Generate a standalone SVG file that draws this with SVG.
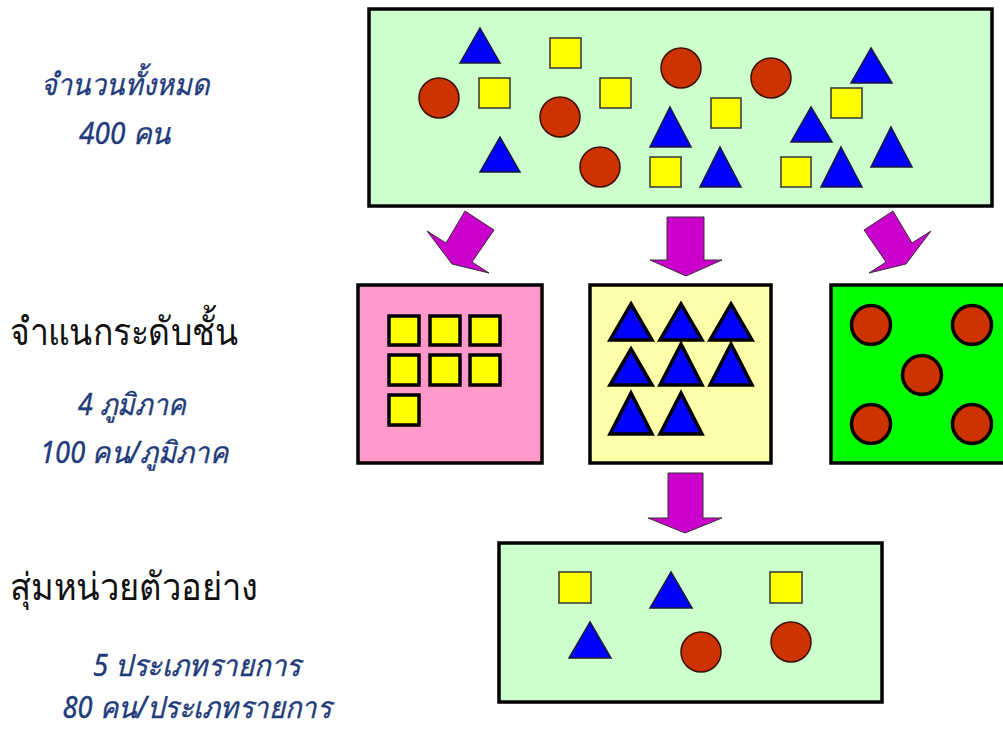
<svg xmlns="http://www.w3.org/2000/svg" width="1003" height="735" viewBox="0 0 1003 735">
<style>
.box{stroke:#000;stroke-width:3.5}
.lg{fill:#ccffcc}
.sq{fill:#ffff00;stroke:#333;stroke-width:1.5}
.tr{fill:#0000ff;stroke:#1a1a3a;stroke-width:1.5}
.ci{fill:#cc3300;stroke:#3a1000;stroke-width:1.5}
.sqb{fill:#ffff00;stroke:#000;stroke-width:3.5}
.trb{fill:#0000ff;stroke:#000;stroke-width:3.5;stroke-linejoin:miter}
.cib{fill:#cc3300;stroke:#000;stroke-width:3.5}
.arr{fill:#cc00cc;stroke:#333;stroke-width:1}
.it{font-family:"Noto Sans","DejaVu Sans",sans-serif;font-style:italic;font-size:30px;fill:#1f3b7a;stroke:#1f3b7a;stroke-width:0.4;text-anchor:middle}
.hd{font-family:"Liberation Serif","DejaVu Serif",serif;font-size:38px;fill:#111}
</style>
<g id="texts">
<text class="it" x="125" y="95" textLength="168" lengthAdjust="spacingAndGlyphs">จำนวนทั้งหมด</text>
<text class="it" x="125" y="144" textLength="92" lengthAdjust="spacingAndGlyphs">400 คน</text>
<text class="hd" x="10" y="345" textLength="228" lengthAdjust="spacingAndGlyphs">จำแนกระดับชั้น</text>
<text class="it" x="132" y="415" textLength="108" lengthAdjust="spacingAndGlyphs">4 ภูมิภาค</text>
<text class="it" x="134" y="463" textLength="188" lengthAdjust="spacingAndGlyphs">100 คน/ภูมิภาค</text>
<text class="hd" x="10" y="600" textLength="248" lengthAdjust="spacingAndGlyphs">สุ่มหน่วยตัวอย่าง</text>
<text class="it" x="197" y="676" textLength="208" lengthAdjust="spacingAndGlyphs">5 ประเภทรายการ</text>
<text class="it" x="197" y="718" textLength="269" lengthAdjust="spacingAndGlyphs">80 คน/ประเภทรายการ</text>
</g>
<g id="population">
<rect class="box lg" x="369" y="9" width="623" height="197"/>
<polygon class="tr" points="480,28 500,63 460,63"/>
<polygon class="tr" points="500,137 520,172 480,172"/>
<polygon class="tr" points="670,107 691,147 650,147"/>
<polygon class="tr" points="720,147 741,187 700,187"/>
<polygon class="tr" points="811,107 832,142 791,142"/>
<polygon class="tr" points="871,48 892,83 851,83"/>
<polygon class="tr" points="841,147 862,187 821,187"/>
<polygon class="tr" points="891,127 912,167 871,167"/>
<rect class="sq" x="550" y="38" width="31" height="30"/>
<rect class="sq" x="479" y="78" width="31" height="30"/>
<rect class="sq" x="600" y="78" width="31" height="30"/>
<rect class="sq" x="711" y="98" width="30" height="30"/>
<rect class="sq" x="831" y="88" width="31" height="30"/>
<rect class="sq" x="650" y="157" width="31" height="30"/>
<rect class="sq" x="781" y="157" width="30" height="30"/>
<circle class="ci" cx="439" cy="98" r="20"/>
<circle class="ci" cx="560" cy="117" r="20"/>
<circle class="ci" cx="600" cy="167" r="20"/>
<circle class="ci" cx="681" cy="68" r="20"/>
<circle class="ci" cx="771" cy="78" r="20"/>
</g>
<g id="connectors">
<polygon class="arr" points="465,211 494,230 472,262 489,273 452,264 427,231 446,243"/>
<polygon class="arr" points="667,217 704,217 704,260 722,260 686,276 650,260 667,260"/>
<polygon class="arr" points="893,211 864,230 886,262 869,273 906,264 931,231 912,243"/>
<polygon class="arr" points="668,473 703,473 703,518 722,518 685,533 648,518 668,518"/>
</g>
<g id="stratum-squares">
<rect class="box" fill="#ff99cc" x="358" y="285" width="184" height="178"/>
<rect class="sqb" x="389" y="316" width="30" height="29"/>
<rect class="sqb" x="430" y="316" width="30" height="29"/>
<rect class="sqb" x="470" y="316" width="30" height="29"/>
<rect class="sqb" x="389" y="355" width="30" height="30"/>
<rect class="sqb" x="430" y="355" width="30" height="30"/>
<rect class="sqb" x="470" y="355" width="30" height="30"/>
<rect class="sqb" x="389" y="395" width="30" height="30"/>
</g>
<g id="stratum-triangles">
<rect class="box" fill="#ffffaa" x="590" y="285" width="181" height="178"/>
<polygon class="trb" points="631,304 652,340 610,340"/>
<polygon class="trb" points="681,304 702,340 660,340"/>
<polygon class="trb" points="731,304 752,340 710,340"/>
<polygon class="trb" points="631,349 652,385 610,385"/>
<polygon class="trb" points="681,344 702,385 660,385"/>
<polygon class="trb" points="731,344 752,385 710,385"/>
<polygon class="trb" points="631,393 652,434 610,434"/>
<polygon class="trb" points="681,393 702,434 660,434"/>
</g>
<g id="stratum-circles">
<rect class="box" fill="#00ff00" x="831" y="285" width="176" height="178"/>
<circle class="cib" cx="871" cy="325" r="19.5"/>
<circle class="cib" cx="972" cy="325" r="19.5"/>
<circle class="cib" cx="922" cy="375" r="19.5"/>
<circle class="cib" cx="871" cy="424" r="19.5"/>
<circle class="cib" cx="972" cy="424" r="19.5"/>
</g>
<g id="sample">
<rect class="box lg" x="499" y="543" width="383" height="159"/>
<rect class="sq" x="559" y="572" width="32" height="31"/>
<rect class="sq" x="770" y="572" width="32" height="31"/>
<polygon class="tr" points="671,572 692,608 650,608"/>
<polygon class="tr" points="590,622 611,658 569,658"/>
<circle class="ci" cx="701" cy="652" r="20"/>
<circle class="ci" cx="791" cy="642" r="20"/>
</g>
</svg>
